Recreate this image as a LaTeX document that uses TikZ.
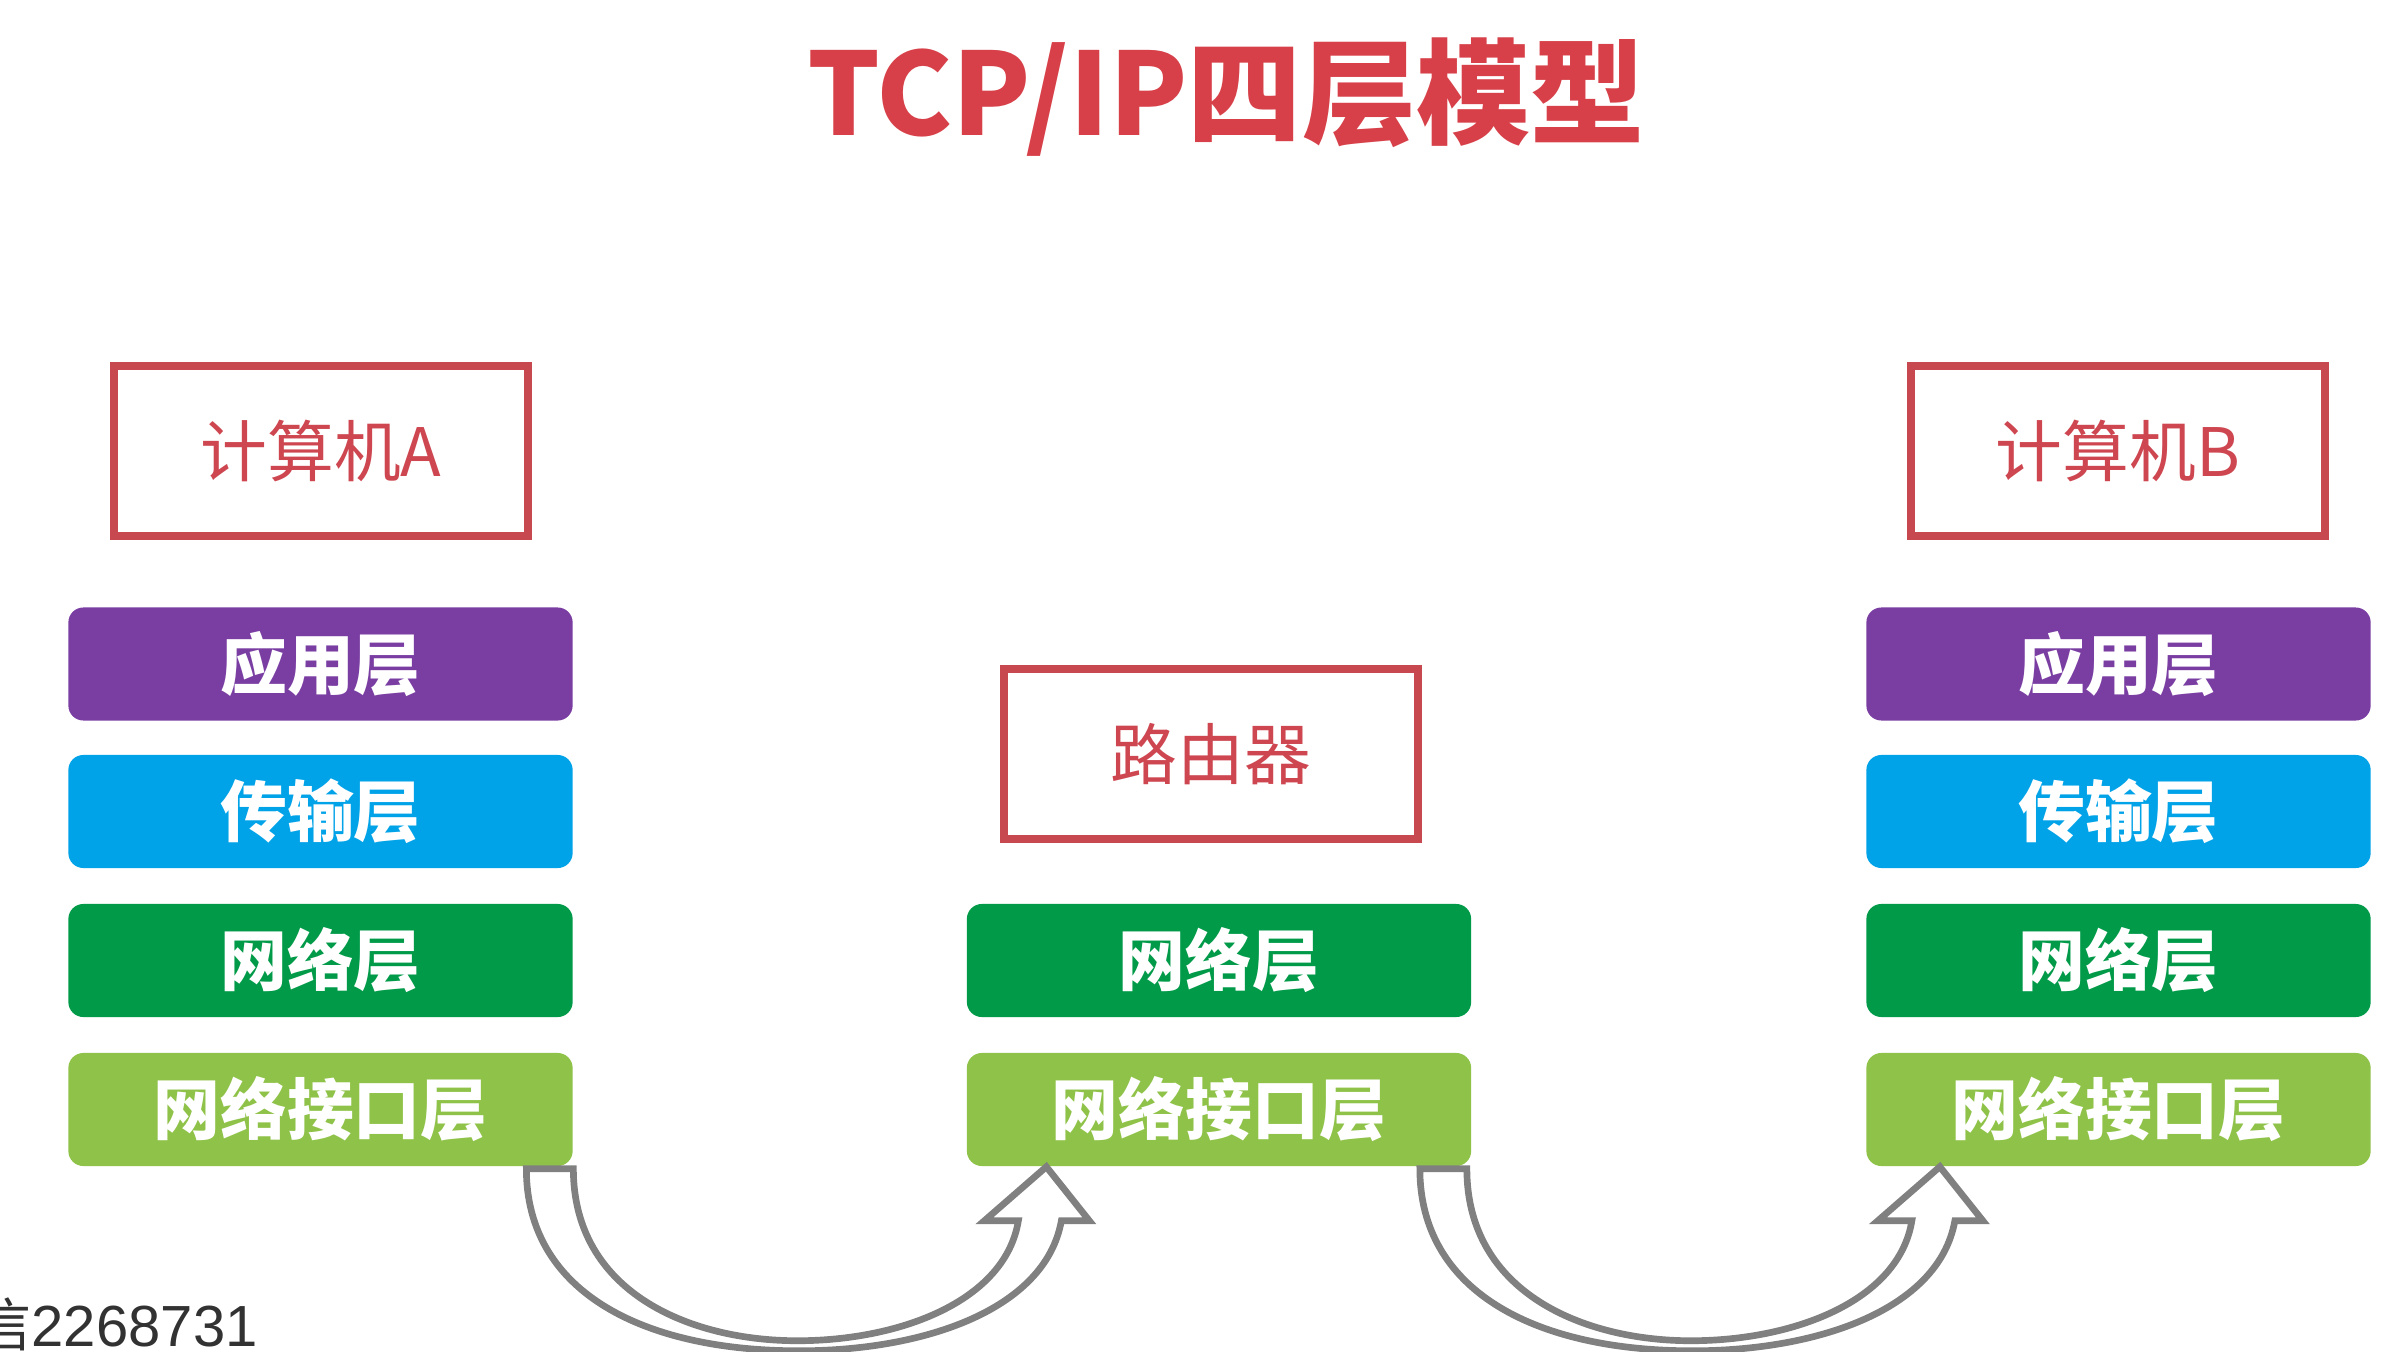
\documentclass[tikz,border=0pt]{standalone}
\usepackage{fontspec}
\setmainfont{Noto Sans CJK SC}
\newfontfamily\cjk{Noto Sans CJK SC}
\newfontfamily\wmfont{Liberation Sans}
\definecolor{titlered}{RGB}{215,64,72}
\definecolor{boxred}{RGB}{200,72,80}
\definecolor{txtred}{RGB}{205,70,80}
\definecolor{appcol}{RGB}{122,62,163}
\definecolor{tracol}{RGB}{0,162,232}
\definecolor{netcol}{RGB}{0,154,72}
\definecolor{ifcol}{RGB}{143,194,72}
\definecolor{arrowgray}{RGB}{128,128,128}
\definecolor{wmgray}{RGB}{50,50,50}
\begin{document}
\begin{tikzpicture}[x=0.01cm,y=-0.01cm,
  layer/.style={rounded corners=0.15cm, minimum width=5.04cm, minimum height=1.13cm,
    inner sep=0pt, text=white, font=\cjk\bfseries\fontsize{19pt}{19pt}\selectfont},
  hostbox/.style={draw=boxred, line width=2.3pt, minimum width=4.14cm, minimum height=1.70cm,
    inner sep=0pt, text=txtred, font=\cjk\fontsize{19pt}{19pt}\selectfont},
  bigarrow/.style={draw=arrowgray, line width=1.9pt, fill=white, line join=miter},
  curvarrow/.pic={
    \draw[bigarrow] (-47,0) -- (0,0)
      .. controls (0,124) and (117,172) .. (224,172)
      .. controls (327,172) and (432,132) .. (445,52)
      -- (411,52) -- (473,-2) -- (516,52) -- (488,52)
      .. controls (472,142) and (347,184) .. (217,182)
      .. controls (67,180) and (-47,122) .. (-47,0) -- cycle;
  }]
\useasboundingbox (0,0) rectangle (2406,1352);

% title
\node[text=titlered, font=\cjk\bfseries\fontsize{32.5pt}{32.5pt}\selectfont, inner sep=0pt]
  (title) at (1226,97) {TCP/IP四层模型};

% host boxes
\node[hostbox] (hostA) at (321,451) {计算机A};
\node[hostbox] (router) at (1211,754) {路由器};
\node[hostbox] (hostB) at (2118,451) {计算机B};

% left stack
\node[layer, fill=appcol] (la1) at (320.5,664) {应用层};
\node[layer, fill=tracol] (la2) at (320.5,811.5) {传输层};
\node[layer, fill=netcol] (la3) at (320.5,960.5) {网络层};
\node[layer, fill=ifcol]  (la4) at (320.5,1109.5) {网络接口层};

% middle stack
\node[layer, fill=netcol] (ma3) at (1219,960.5) {网络层};
\node[layer, fill=ifcol]  (ma4) at (1219,1109.5) {网络接口层};

% right stack
\node[layer, fill=appcol] (ra1) at (2118.5,664) {应用层};
\node[layer, fill=tracol] (ra2) at (2118.5,811.5) {传输层};
\node[layer, fill=netcol] (ra3) at (2118.5,960.5) {网络层};
\node[layer, fill=ifcol]  (ra4) at (2118.5,1109.5) {网络接口层};

% curved hollow arrows
\pic at ([yshift=-0.02cm]la4.south east) {curvarrow};
\pic at ([yshift=-0.02cm,xshift=-0.05cm]ma4.south east) {curvarrow};

% watermark (cut off at the left edge, as in the reference)
\node[anchor=base west, inner sep=0pt, text=wmgray, font=\wmfont\fontsize{16.5pt}{16.5pt}\selectfont]
  (wm) at (-27,1346) {{\cjk 信}2268731};
\end{tikzpicture}
\end{document}
